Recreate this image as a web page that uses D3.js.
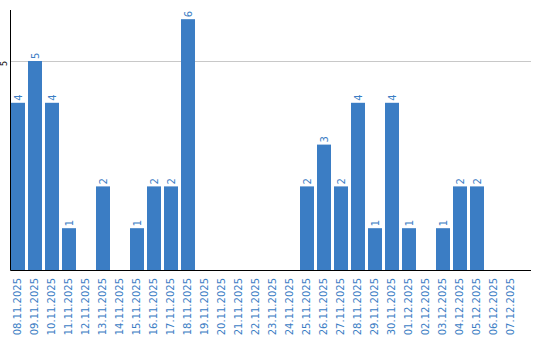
<!DOCTYPE html>
<html>
<head>
<meta charset="utf-8">
<script src="https://cdn.jsdelivr.net/npm/d3@7"></script>
<style>
  body { margin: 0; background: #fff; }
  text { font-family: "DejaVu Sans", Verdana, sans-serif; }
</style>
</head>
<body>
<svg id="chart"></svg>
<script>
const dates = ['08.11.2025', '09.11.2025', '10.11.2025', '11.11.2025', '12.11.2025',
    '13.11.2025', '14.11.2025', '15.11.2025', '16.11.2025', '17.11.2025',
    '18.11.2025', '19.11.2025', '20.11.2025', '21.11.2025', '22.11.2025',
    '23.11.2025', '24.11.2025', '25.11.2025', '26.11.2025', '27.11.2025',
    '28.11.2025', '29.11.2025', '30.11.2025', '01.12.2025', '02.12.2025',
    '03.12.2025', '04.12.2025', '05.12.2025', '06.12.2025', '07.12.2025'];
const counts = [4, 5, 4, 1, 0, 2, 0, 1, 2, 2, 6, 0, 0, 0, 0, 0, 0,
    2, 3, 2, 4, 1, 4, 1, 0, 1, 2, 2, 0, 0];
const yTicks = [5];

const width = 540, height = 340;
const margin = {left: 10.5, right: 531, top: 10, bottom: 270};
const barColor = '#3b7dc4';

const svg = d3.select('#chart')
    .attr('width', width)
    .attr('height', height);

const x = d3.scaleBand()
    .domain(dates)
    .range([11, 518])
    .paddingInner(3 / 17)
    .paddingOuter(0);

const y = d3.scaleLinear()
    .domain([0, 6.22])
    .range([margin.bottom, margin.top]);

// grid line at 5
svg.selectAll('.grid')
    .data(yTicks)
    .join('line')
    .attr('class', 'grid')
    .attr('x1', margin.left)
    .attr('x2', margin.right)
    .attr('y1', d => Math.round(y(d)) + 0.5)
    .attr('y2', d => Math.round(y(d)) + 0.5)
    .attr('stroke', '#c8c8c8')
    .attr('stroke-width', 1);

svg.selectAll('.bar')
    .data(counts)
    .join('rect')
    .attr('class', 'bar')
    .attr('x', (d, i) => x(dates[i]))
    .attr('width', x.bandwidth())
    .attr('y', d => y(d))
    .attr('height', d => margin.bottom - y(d))
    .attr('fill', barColor);

// value labels (rotated)
svg.selectAll('.value')
    .data(counts.map((d, i) => ({v: d, date: dates[i]})).filter(d => d.v > 0))
    .join('text')
    .attr('class', 'value')
    .attr('transform', d => `translate(${x(d.date) + x.bandwidth() / 2 + 3.5},${y(d.v) - 2}) rotate(-90)`)
    .attr('font-size', 10)
    .attr('fill', barColor)
    .text(d => d.v);

// y tick labels
svg.selectAll('.ytick')
    .data(yTicks)
    .join('text')
    .attr('class', 'ytick')
    .attr('transform', d => `translate(6.5,${y(d) + 2.5}) rotate(-90)`)
    .attr('text-anchor', 'middle')
    .attr('font-size', 8)
    .attr('fill', '#000')
    .text(d => d);

// axes lines
svg.append('line')
    .attr('x1', margin.left).attr('x2', margin.left)
    .attr('y1', margin.top).attr('y2', margin.bottom + 0.5)
    .attr('stroke', '#000');
svg.append('line')
    .attr('x1', margin.left).attr('x2', margin.right)
    .attr('y1', margin.bottom + 0.5).attr('y2', margin.bottom + 0.5)
    .attr('stroke', '#000');

// date labels
svg.selectAll('.xlabel')
    .data(dates)
    .join('text')
    .attr('class', 'xlabel')
    .attr('transform', d => `translate(${x(d) + x.bandwidth() / 2 + 3},278) rotate(-90)`)
    .attr('text-anchor', 'end')
    .attr('font-size', 10)
    .attr('fill', barColor)
    .text(d => d);
</script>
</body>
</html>
